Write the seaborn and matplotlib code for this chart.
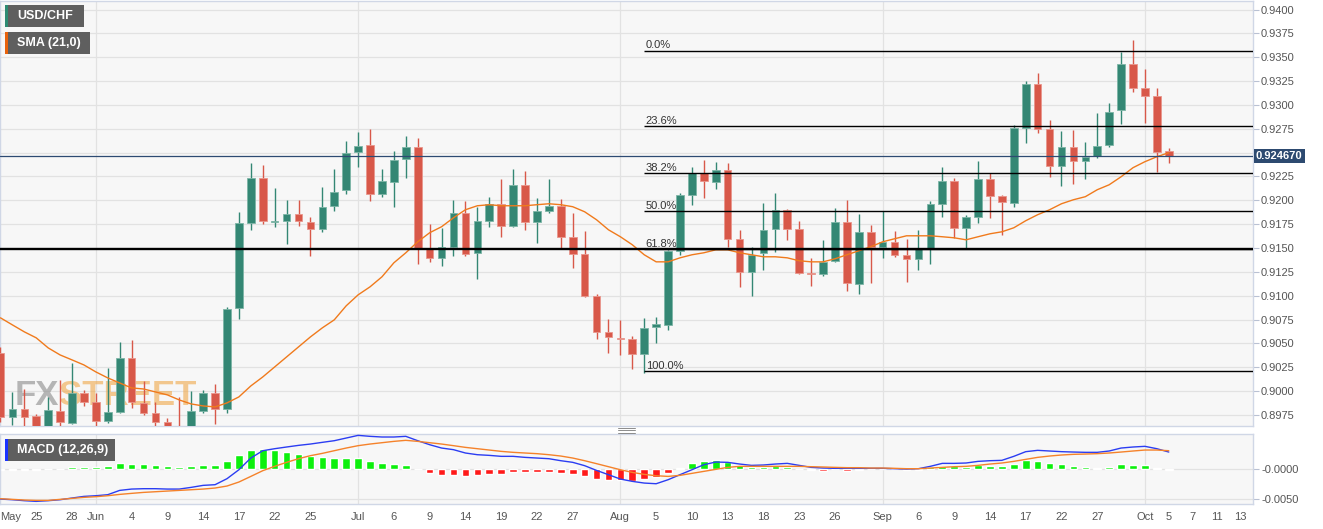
"""
plot.py – USD/CHF 日线 + SMA(21) + 斐波那契回撤 + MACD
"""

import numpy as np
import pandas as pd
import matplotlib
matplotlib.use("Agg")
import matplotlib.pyplot as plt
from matplotlib.patches import Rectangle
from matplotlib.lines import Line2D
import seaborn as sns

# ---- data ----
opens = [0.90400, 0.89729, 0.89813, 0.89739, 0.89613, 0.89792, 0.89666, 0.89981, 0.89886, 0.89687,
         0.89781, 0.90348, 0.89876, 0.89771, 0.89676, 0.89592, 0.89592, 0.89792, 0.89981, 0.89813,
         0.90873, 0.91765, 0.92237, 0.91775, 0.91786, 0.91859, 0.91775, 0.91702, 0.91943, 0.92111,
         0.92510, 0.92583, 0.92069, 0.92195, 0.92436, 0.92562, 0.91502, 0.91397, 0.91513, 0.91870,
         0.91450, 0.91786, 0.91964, 0.91733, 0.92163, 0.91775, 0.91891, 0.91943, 0.91618, 0.91439,
         0.90999, 0.90621, 0.90558, 0.90547, 0.90390, 0.90673, 0.90694, 0.91471, 0.92059, 0.92289,
         0.92195, 0.92321, 0.91597, 0.91250, 0.91450, 0.91702, 0.91901, 0.91702, 0.91240, 0.91229,
         0.91366, 0.91775, 0.91124, 0.91670, 0.91513, 0.91565, 0.91429, 0.91387, 0.91492, 0.91964,
         0.92205, 0.91712, 0.91828, 0.92226, 0.92048, 0.91975, 0.92762, 0.93223, 0.92751, 0.92363,
         0.92562, 0.92415, 0.92468, 0.92583, 0.92951, 0.93433, 0.93181, 0.93098, 0.92520]
highs = [0.90463, 0.89991, 0.90022, 0.89760, 0.89939, 0.90117, 0.90295, 0.90012, 0.89981, 0.90243,
         0.90516, 0.90537, 0.90106, 0.89886, 0.89718, 0.89939, 0.90002, 0.90012, 0.90075, 0.90883,
         0.91880, 0.92394, 0.92373, 0.92132, 0.92006, 0.92006, 0.91828, 0.92142, 0.92331, 0.92625,
         0.92720, 0.92751, 0.92331, 0.92520, 0.92678, 0.92657, 0.91754, 0.91712, 0.92006, 0.91996,
         0.91933, 0.92038, 0.92226, 0.92331, 0.92310, 0.92027, 0.92226, 0.92017, 0.91870, 0.91681,
         0.91020, 0.90757, 0.90747, 0.90579, 0.90768, 0.90778, 0.91481, 0.92080, 0.92352, 0.92426,
         0.92405, 0.92394, 0.91691, 0.91513, 0.91975, 0.92080, 0.91912, 0.91786, 0.91397, 0.91586,
         0.91922, 0.92006, 0.91859, 0.91744, 0.91891, 0.91681, 0.91597, 0.91691, 0.91996, 0.92352,
         0.92237, 0.91849, 0.92415, 0.92289, 0.92059, 0.92793, 0.93255, 0.93339, 0.92846, 0.92730,
         0.92741, 0.92615, 0.92919, 0.93024, 0.93559, 0.93685, 0.93381, 0.93181, 0.92552]
lows = [0.89676, 0.89645, 0.89634, 0.89571, 0.89571, 0.89634, 0.89655, 0.89844, 0.89634, 0.89666,
        0.89771, 0.89823, 0.89750, 0.89634, 0.89550, 0.89529, 0.89571, 0.89771, 0.89655, 0.89771,
        0.90757, 0.91691, 0.91754, 0.91723, 0.91544, 0.91733, 0.91418, 0.91670, 0.91891, 0.92069,
        0.92352, 0.91996, 0.92038, 0.91933, 0.92237, 0.91334, 0.91355, 0.91313, 0.91418, 0.91418,
        0.91177, 0.91723, 0.91618, 0.91723, 0.91691, 0.91555, 0.91870, 0.91492, 0.91292, 0.90988,
        0.90547, 0.90400, 0.90379, 0.90232, 0.90190, 0.90505, 0.90642, 0.91429, 0.91954, 0.92027,
        0.92121, 0.91513, 0.91093, 0.90999, 0.91271, 0.91460, 0.91586, 0.91229, 0.91103, 0.91208,
        0.91355, 0.91051, 0.91020, 0.91135, 0.91397, 0.91408, 0.91145, 0.91271, 0.91334, 0.91828,
        0.91607, 0.91502, 0.91765, 0.91817, 0.91639, 0.91933, 0.92604, 0.92709, 0.92247, 0.92153,
        0.92174, 0.92226, 0.92447, 0.92562, 0.92804, 0.93140, 0.92814, 0.92300, 0.92394]
closes = [0.89729, 0.89813, 0.89729, 0.89613, 0.89802, 0.89676, 0.89981, 0.89886, 0.89687, 0.89781,
          0.90348, 0.89886, 0.89771, 0.89676, 0.89592, 0.89561, 0.89792, 0.89981, 0.89813, 0.90862,
          0.91765, 0.92237, 0.91786, 0.91786, 0.91859, 0.91786, 0.91702, 0.91933, 0.92090, 0.92499,
          0.92573, 0.92069, 0.92205, 0.92426, 0.92562, 0.91502, 0.91397, 0.91513, 0.91870, 0.91439,
          0.91786, 0.91964, 0.91733, 0.92163, 0.91775, 0.91891, 0.91943, 0.91618, 0.91439, 0.90999,
          0.90621, 0.90568, 0.90547, 0.90390, 0.90663, 0.90705, 0.91471, 0.92059, 0.92289, 0.92205,
          0.92321, 0.91597, 0.91250, 0.91429, 0.91691, 0.91901, 0.91702, 0.91240, 0.91229, 0.91355,
          0.91775, 0.91135, 0.91670, 0.91513, 0.91565, 0.91429, 0.91387, 0.91492, 0.91964, 0.92205,
          0.91712, 0.91828, 0.92226, 0.92048, 0.91985, 0.92762, 0.93223, 0.92751, 0.92363, 0.92562,
          0.92415, 0.92457, 0.92573, 0.92930, 0.93433, 0.93181, 0.93098, 0.92510, 0.92467]
sma21 = [0.90768, 0.90694, 0.90621, 0.90558, 0.90453, 0.90379, 0.90327, 0.90274, 0.90201, 0.90138,
         0.90085, 0.90033, 0.90022, 0.89991, 0.89960, 0.89907, 0.89865, 0.89844, 0.89834, 0.89876,
         0.89939, 0.90054, 0.90148, 0.90253, 0.90358, 0.90463, 0.90568, 0.90663, 0.90747, 0.90894,
         0.91009, 0.91093, 0.91198, 0.91345, 0.91450, 0.91565, 0.91660, 0.91723, 0.91817, 0.91901,
         0.91943, 0.91954, 0.91943, 0.91943, 0.91943, 0.91954, 0.91964, 0.91954, 0.91933, 0.91880,
         0.91796, 0.91691, 0.91618, 0.91534, 0.91429, 0.91355, 0.91355, 0.91397, 0.91429, 0.91450,
         0.91481, 0.91481, 0.91450, 0.91429, 0.91408, 0.91408, 0.91397, 0.91366, 0.91355, 0.91355,
         0.91387, 0.91429, 0.91471, 0.91513, 0.91565, 0.91597, 0.91628, 0.91628, 0.91628, 0.91618,
         0.91607, 0.91586, 0.91618, 0.91649, 0.91670, 0.91712, 0.91786, 0.91849, 0.91901, 0.91964,
         0.92006, 0.92038, 0.92111, 0.92163, 0.92247, 0.92342, 0.92405, 0.92457, 0.92499]

macd_line = [-0.00501, -0.00512, -0.00528, -0.00539, -0.00528, -0.00512, -0.00484, -0.00457, -0.00446, -0.00429,
             -0.00358, -0.00336, -0.00330, -0.00330, -0.00336, -0.00336, -0.00308, -0.00275, -0.00264, -0.00165,
             -0.00017, 0.00176, 0.00297, 0.00330, 0.00358, 0.00385, 0.00407, 0.00435, 0.00462, 0.00506,
             0.00550, 0.00534, 0.00523, 0.00523, 0.00534, 0.00462, 0.00396, 0.00341, 0.00314, 0.00259,
             0.00231, 0.00220, 0.00204, 0.00204, 0.00187, 0.00176, 0.00165, 0.00132, 0.00105, 0.00050,
             -0.00028, -0.00099, -0.00171, -0.00209, -0.00237, -0.00248, -0.00182, -0.00099, -0.00017, 0.00066,
             0.00110, 0.00105, 0.00077, 0.00055, 0.00061, 0.00077, 0.00088, 0.00055, 0.00022, 0.00011,
             0.00006, 0.00006, 0.00006, 0.00006, 0.00006, 0.00000, -0.00006, 0.00000, 0.00039, 0.00088,
             0.00088, 0.00094, 0.00121, 0.00132, 0.00138, 0.00204, 0.00281, 0.00303, 0.00292, 0.00281,
             0.00275, 0.00270, 0.00270, 0.00292, 0.00341, 0.00358, 0.00369, 0.00330, 0.00275]
macd_signal = [-0.00495, -0.00506, -0.00517, -0.00523, -0.00523, -0.00506, -0.00490, -0.00473, -0.00462, -0.00446,
               -0.00424, -0.00407, -0.00391, -0.00380, -0.00369, -0.00358, -0.00347, -0.00336, -0.00319, -0.00286,
               -0.00220, -0.00127, -0.00033, 0.00039, 0.00105, 0.00165, 0.00215, 0.00253, 0.00297, 0.00341,
               0.00380, 0.00407, 0.00429, 0.00451, 0.00468, 0.00451, 0.00429, 0.00407, 0.00380, 0.00352,
               0.00330, 0.00308, 0.00286, 0.00270, 0.00259, 0.00248, 0.00231, 0.00209, 0.00176, 0.00132,
               0.00083, 0.00033, -0.00017, -0.00061, -0.00094, -0.00116, -0.00127, -0.00110, -0.00077, -0.00044,
               -0.00011, 0.00022, 0.00039, 0.00039, 0.00039, 0.00039, 0.00039, 0.00039, 0.00033, 0.00028,
               0.00022, 0.00017, 0.00017, 0.00011, 0.00011, 0.00006, 0.00000, 0.00000, 0.00011, 0.00022,
               0.00033, 0.00039, 0.00055, 0.00077, 0.00094, 0.00121, 0.00154, 0.00187, 0.00209, 0.00226,
               0.00237, 0.00242, 0.00248, 0.00259, 0.00275, 0.00292, 0.00308, 0.00308, 0.00297]
macd_hist = [-0.00017, -0.00017, -0.00017, -0.00017, -0.00003, -0.00003, 0.00022, 0.00033, 0.00033, 0.00044,
             0.00088, 0.00083, 0.00072, 0.00055, 0.00044, 0.00028, 0.00044, 0.00066, 0.00066, 0.00132,
             0.00231, 0.00308, 0.00319, 0.00308, 0.00275, 0.00248, 0.00209, 0.00187, 0.00176, 0.00176,
             0.00171, 0.00121, 0.00088, 0.00077, 0.00061, -0.00005, -0.00072, -0.00099, -0.00099, -0.00121,
             -0.00099, -0.00088, -0.00088, -0.00061, -0.00061, -0.00061, -0.00050, -0.00077, -0.00088, -0.00127,
             -0.00165, -0.00193, -0.00193, -0.00198, -0.00171, -0.00143, -0.00066, 0.00011, 0.00088, 0.00121,
             0.00143, 0.00110, 0.00055, 0.00028, 0.00028, 0.00044, 0.00033, -0.00003, -0.00028, -0.00033,
             -0.00011, -0.00033, -0.00017, -0.00011, -0.00006, -0.00011, -0.00017, -0.00017, 0.00022, 0.00050,
             0.00039, 0.00033, 0.00055, 0.00050, 0.00044, 0.00083, 0.00138, 0.00127, 0.00088, 0.00072,
             0.00039, 0.00022, 0.00011, 0.00028, 0.00072, 0.00066, 0.00055, 0.00006, -0.00028]

fib_high = 0.9357
fib_low = 0.9021
fib_start = 54          # candle of the swing low
fib_ratios = [0.0, 0.236, 0.382, 0.5, 0.618, 1.0]
fib_labels = ["0.0%", "23.6%", "38.2%", "50.0%", "61.8%", "100.0%"]
last_price = 0.924670

date_idx = [0, 3, 6, 8, 11, 14, 17, 20, 23, 26, 30, 33, 36, 39, 42, 45, 48, 52, 55, 58,
            61, 64, 67, 70, 74, 77, 80, 83, 86, 89, 92, 96, 98, 100, 102, 104]
date_labels = ["May", "25", "28", "Jun", "4", "9", "14", "17", "22", "25", "Jul", "6", "9", "14",
               "19", "22", "27", "Aug", "5", "10", "13", "18", "23", "26", "Sep", "6", "9", "14",
               "17", "22", "27", "Oct", "5", "7", "11", "13"]
month_idx = [8, 30, 52, 74, 96]

# ---- style ----
sns.set_theme(style="white")
plt.rcParams['font.family'] = ['Liberation Sans', 'DejaVu Sans']

GREEN, RED = '#348774', '#d85849'
GREEN_EDGE, RED_EDGE = '#7db5a6', '#e9968c'
BG, GRID, BORDER = '#f7f7f7', '#e2e2e2', '#d0d7e6'
TXT = '#555555'

W, H = 1323, 529
fig = plt.figure(figsize=(W / 100, H / 100), dpi=100)
fig.patch.set_facecolor('white')


def fx(px):
    return px / W


def fy(py):
    return 1 - py / H


PLOT_R = 1252.7
ax = fig.add_axes([0, fy(425.7), fx(PLOT_R), fy(0.5) - fy(425.7)])
axm = fig.add_axes([0, fy(504), fx(PLOT_R), fy(434) - fy(504)])

for a in (ax, axm):
    a.set_facecolor(BG)
    a.set_xlim(-0.04, 105.04)
    a.set_axisbelow(True)
    for s in a.spines.values():
        s.set_color(BORDER)
        s.set_linewidth(1.0)
    for m in month_idx:
        a.axvline(m, color=GRID, lw=0.9, zorder=0)

# ---- candles ----
df = pd.DataFrame(dict(open=opens, high=highs, low=lows, close=closes, sma=sma21))
df['idx'] = np.arange(len(df))
up = df['close'] >= df['open']
col = np.where(up, GREEN, RED)
edge = np.where(up, GREEN_EDGE, RED_EDGE)
ax.vlines(df['idx'], df['low'], df['high'], colors=col, lw=1.0, zorder=3)
body_lo = np.minimum(df['open'], df['close'])
body_h = np.maximum((df['close'] - df['open']).abs(), 0.00008)
ax.bar(df['idx'], body_h, bottom=body_lo, width=0.64, color=col, edgecolor=edge,
       linewidth=0.6, zorder=4)

sns.lineplot(data=df, x='idx', y='sma', ax=ax, color='#f07a1c', lw=1.0, zorder=5)

# support line + current price
lvl618 = fib_high - 0.618 * (fib_high - fib_low)
ax.axhline(lvl618, color='black', lw=1.7, zorder=6)
ax.axhline(last_price, color='#2d4a72', lw=0.9, zorder=6)

# fibonacci retracement
for r, lab in zip(fib_ratios, fib_labels):
    lvl = fib_high - r * (fib_high - fib_low)
    ax.hlines(lvl, fib_start, 105.04, color='black', lw=1.0, zorder=6)
    ax.annotate(lab, (fib_start, lvl), xytext=(1, 1.5), textcoords='offset points',
                fontsize=8, color='#333333', ha='left', va='baseline', zorder=7)

ax.set_ylim(0.89637, 0.94095)
yt = np.arange(0.8975, 0.94001, 0.0025)
ax.set_yticks(yt)
ax.set_yticklabels(['' if abs(v - 0.925) < 1e-6 else f"{v:.4f}" for v in yt])
ax.yaxis.tick_right()
ax.tick_params(axis='y', length=4, width=0.8, color='#b9c1d3', labelsize=8,
               labelcolor=TXT, pad=2)
ax.set_xticks([])
ax.grid(axis='y', color=GRID, lw=0.9)
ax.set_xlabel('')
ax.set_ylabel('')

ax.text(1.0025, last_price, f"{last_price:.6f}", transform=ax.get_yaxis_transform(),
        ha='left', va='center', fontsize=8, fontweight='bold', color='white', zorder=20,
        clip_on=False, bbox=dict(boxstyle='square,pad=0.2', fc='#2d4a70', ec='none'))

# watermark
wm_font = ['Liberation Sans Narrow', 'Liberation Sans']
wm = ax.text(0.012, 0.048, 'FX', transform=ax.transAxes, fontsize=25, fontweight='bold',
             color='#8a8a8a', alpha=0.6, zorder=1, family=wm_font)
ax.annotate('STREET', xy=(1, 0), xycoords=wm, ha='left', va='bottom', fontsize=25,
            fontweight='bold', color='#f0a848', alpha=0.6, zorder=1, family=wm_font)

# ---- MACD ----
idx = np.arange(len(macd_hist))
hist = np.array(macd_hist)
axm.bar(idx, hist, width=0.64, color=np.where(hist >= 0, '#0cf00c', '#ff1a1a'), zorder=2)
sns.lineplot(x=idx, y=macd_line, ax=axm, color='#2b3df2', lw=1.0, zorder=3)
sns.lineplot(x=idx, y=macd_signal, ax=axm, color='#f5822a', lw=1.0, zorder=3)

axm.set_ylim(-0.005825, 0.005726)
axm.set_yticks([0, -0.005])
axm.set_yticklabels(['-0.0000', '-0.0050'])
axm.yaxis.tick_right()
axm.tick_params(axis='y', length=4, width=0.8, color='#b9c1d3', labelsize=8,
                labelcolor=TXT, pad=2)
axm.grid(axis='y', color=GRID, lw=0.9)
axm.set_xticks(date_idx)
axm.set_xticklabels(date_labels)
axm.tick_params(axis='x', length=3, width=0.8, color='#9aa3b8', labelsize=8,
                labelcolor=TXT, pad=3)
axm.get_xticklabels()[0].set_horizontalalignment('left')
axm.set_xlabel('')
axm.set_ylabel('')


# ---- legend tags ----
def tag(x0, y0, x1, y1, stripe, text):
    fig.add_artist(Rectangle((fx(x0), fy(y1)), fx(x1 - x0), (y1 - y0) / H,
                             transform=fig.transFigure, fc='#5f5f5f', ec='none', zorder=20))
    fig.add_artist(Rectangle((fx(x0), fy(y1)), fx(2.5), (y1 - y0) / H,
                             transform=fig.transFigure, fc=stripe, ec='none', zorder=21))
    fig.text(fx(x0 + 12), fy((y0 + y1) / 2), text, color='white', fontsize=9,
             fontweight='bold', ha='left', va='center', zorder=22)


tag(5, 5, 84, 27, '#2e8b73', 'USD/CHF')
tag(5, 32, 90, 54, '#e8620c', 'SMA (21,0)')
tag(5, 439, 115, 461, '#1a33ff', 'MACD (12,26,9)')

# grip between panels
for gy in (428.2, 430.4, 432.6):
    fig.add_artist(Line2D([fx(618), fx(635)], [fy(gy), fy(gy)], transform=fig.transFigure,
                          color='#8c8c8c', lw=0.7))

fig.savefig('out.png', dpi=100)
plt.close(fig)
